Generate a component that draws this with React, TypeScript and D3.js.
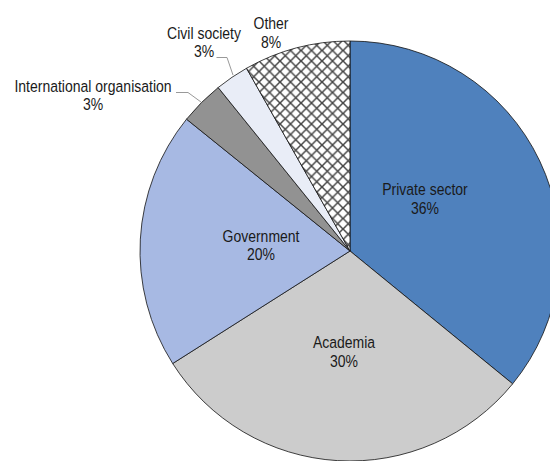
import React from "react";
import * as d3 from "d3";

const categories = ["Private sector", "Academia", "Government", "International organisation", "Civil society", "Other"];
const values = [35.9, 30.1, 19.8, 3.4, 2.6, 8.2];
const valueLabels = ["36%", "30%", "20%", "3%", "3%", "8%"];
const colors = ["#4F81BD", "#CCCCCC", "#A7B9E3", "#929292", "#E9EDF7", "url(#hatch)"];

const W = 550, H = 461;
const cx = 350, cy = 251, R = 210;
const LH = 18.5;

export default function App() {
  const pie = d3.pie<number>().sort(null).value((d) => d);
  const arcs = pie(values);
  const arc = d3.arc<d3.PieArcDatum<number>>().innerRadius(0).outerRadius(R);

  const labelPos: [number, number][] = [
    [425, 195],
    [344, 348],
    [261, 241.5],
    [93, 91.5],
    [204, 38.5],
    [271, 29],
  ];
  const leaders: Record<number, [number, number][]> = {
    3: [[176, 92.5], [188, 92.5], [201, 102]],
    4: [[216.5, 57.5], [227, 57.5], [233, 75]],
  };

  return (
    <svg width={W} height={H} style={{ position: "absolute", left: 0, top: 0 }}>
      <defs>
        <pattern id="hatch" width={10.5} height={10.5} patternUnits="userSpaceOnUse" x={cx} y={cy}>
          <rect width={10.5} height={10.5} fill="#fff" />
          <path d="M0,0 L10.5,10.5 M10.5,0 L0,10.5" stroke="#444" strokeWidth={1.5} />
        </pattern>
      </defs>
      <g transform={`translate(${cx},${cy})`}>
        {arcs.map((a, i) => (
          <path key={i} d={arc(a) || ""} fill={colors[i]} stroke="#111" strokeWidth={0.8} />
        ))}
      </g>
      {arcs.map((a, i) => {
        const [x, y] = labelPos[i];
        const ln = leaders[i];
        return (
          <g key={"l" + i} fontFamily="'Liberation Sans', Arial, sans-serif" fontSize={14} fill="#1a1a1a">
            {ln && (
              <polyline points={ln.map((q) => q.join(",")).join(" ")} fill="none" stroke="#999" strokeWidth={1} />
            )}
            <text transform={`translate(${x},${y}) scale(1,1.12)`} textAnchor="middle">{categories[i]}</text>
            <text transform={`translate(${x},${y + LH}) scale(1,1.12)`} textAnchor="middle">{valueLabels[i]}</text>
          </g>
        );
      })}
    </svg>
  );
}
